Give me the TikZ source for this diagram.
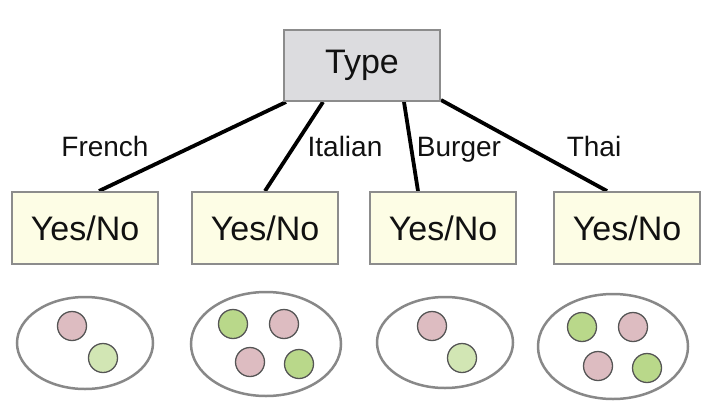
\documentclass[tikz,border=0pt]{standalone}
\usepackage{fontspec}
\setmainfont{Liberation Sans}
\usetikzlibrary{shapes.geometric,backgrounds}
\definecolor{boxgray}{HTML}{8C8C8C}
\definecolor{typefill}{HTML}{DCDCDF}
\definecolor{ynfill}{HTML}{FDFDE5}
\definecolor{pinkc}{HTML}{DDBCC1}
\definecolor{lgreen}{HTML}{D2E6B4}
\definecolor{dgreen}{HTML}{B9D88A}
\definecolor{ringgray}{HTML}{888888}
\definecolor{dotline}{HTML}{555555}
\definecolor{txt}{HTML}{111111}
\tikzset{
  typebox/.style={draw=boxgray, line width=2pt, fill=typefill, minimum width=156pt, minimum height=71pt, inner sep=0pt, text=txt, font=\fontsize{34}{37}\selectfont},
  ynbox/.style={draw=boxgray, line width=2pt, fill=ynfill, minimum width=146pt, minimum height=72pt, inner sep=0pt, text=txt, font=\fontsize{34}{37}\selectfont},
  edge/.style={line width=3.8pt, black},
  lbl/.style={font=\fontsize{28}{31}\selectfont, inner sep=0pt, text=txt, anchor=base},
  ring/.style={draw=ringgray, line width=2.5pt, fill=white, ellipse, inner sep=0pt},
  dot/.style={circle, draw=dotline, line width=1.3pt, minimum size=29pt, inner sep=0pt},
}
\begin{document}
\begin{tikzpicture}[x=1pt,y=1pt]
\useasboundingbox (0,0) rectangle (718,-416);
% nodes
\node[typebox] (type) at (362,-65.5) {Type};
\node[ynbox] (c1) at (85,-228) {Yes/No};
\node[ynbox] (c2) at (265,-228) {Yes/No};
\node[ynbox] (c3) at (443,-228) {Yes/No};
\node[ynbox] (c4) at (627,-228) {Yes/No};
% edges
\begin{scope}[on background layer]
\draw[edge] ([xshift=3pt]type.south west) -- ([xshift=14pt]c1.north);
\draw[edge] ([xshift=40pt]type.south west) -- (c2.north);
\draw[edge] ([xshift=-37pt]type.south east) -- ([xshift=-25pt]c3.north);
\draw[edge] ([yshift=2pt]type.south east) -- ([xshift=-20pt]c4.north);
\end{scope}
% labels
\node[lbl] (l1) at (105,-156.5) {French};
\node[lbl] (l2) at (345,-156.5) {Italian};
\node[lbl] (l3) at (459,-156.5) {Burger};
\node[lbl] (l4) at (594,-156.5) {Thai};
% example sets
\node[ring, minimum width=136pt, minimum height=92pt] (e1) at (85,-343) {};
\node[ring, minimum width=150pt, minimum height=104pt] (e2) at (266,-344) {};
\node[ring, minimum width=136pt, minimum height=91pt] (e3) at (445,-342.5) {};
\node[ring, minimum width=150pt, minimum height=105pt] (e4) at (613,-346.5) {};
\node[dot, fill=pinkc] (d11) at (72,-326) {};
\node[dot, fill=lgreen] (d12) at (103,-358) {};
\node[dot, fill=dgreen] (d21) at (233,-324) {};
\node[dot, fill=pinkc] (d22) at (284,-324) {};
\node[dot, fill=pinkc] (d23) at (250,-362) {};
\node[dot, fill=dgreen] (d24) at (299,-364) {};
\node[dot, fill=pinkc] (d31) at (432,-326) {};
\node[dot, fill=lgreen] (d32) at (462,-358) {};
\node[dot, fill=dgreen] (d41) at (582,-327) {};
\node[dot, fill=pinkc] (d42) at (633,-327) {};
\node[dot, fill=pinkc] (d43) at (598,-366) {};
\node[dot, fill=dgreen] (d44) at (647,-368) {};
\end{tikzpicture}
\end{document}
